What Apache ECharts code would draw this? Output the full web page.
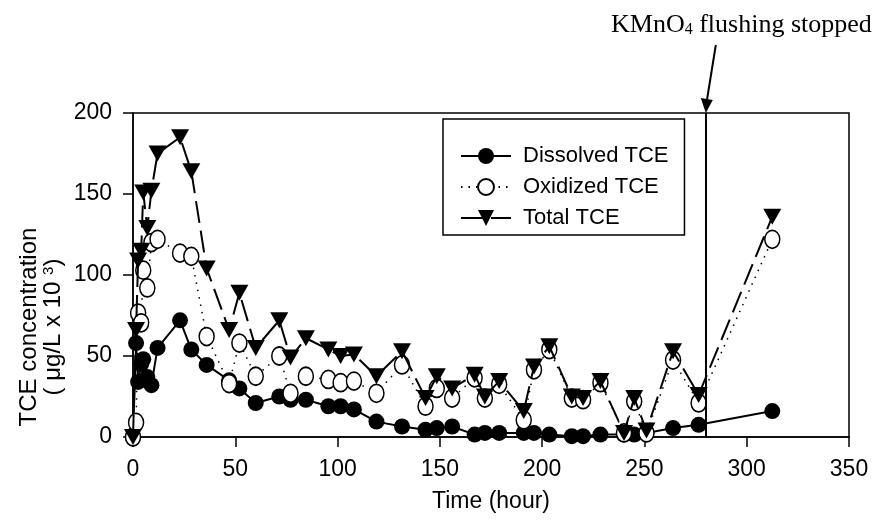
<!DOCTYPE html>
<html><head><meta charset="utf-8">
<script src="https://cdn.jsdelivr.net/npm/echarts@6/dist/echarts.min.js"></script>
<style>html,body{margin:0;padding:0;background:#fff}#c{width:880px;height:522px}</style>
</head><body><div id="c"></div>
<script>
// Time (hour)
var times = [0, 1.5, 2.5, 4, 5, 7, 9, 12, 23, 28.5, 36, 47, 52, 60, 71.5, 77, 84.5, 95.5, 101.5, 108, 119, 131.5, 143, 148.5, 156, 167, 172, 179, 191, 196, 203.5, 214.5, 220, 228.5, 240, 245, 251, 264, 276.5, 312.5];
var dissolved = [0, 58, 34, 45, 48, 37, 32, 55, 72, 54, 44.5, 35, 30, 21, 25, 23, 23, 19, 19, 17, 9.5, 6.5, 4.5, 5.5, 6.5, 1.5, 2.5, 2.5, 2.5, 2.5, 1.5, 0.5, 0.5, 1.5, 1.5, 1.5, 2.5, 5.5, 7.5, 16];
var oxidized = [0, 9, 76.5, 70.5, 103, 92, 120, 122, 113.5, 111.5, 62, 33, 58, 37.5, 50, 27, 37.5, 35.5, 33.5, 34.5, 27, 44.5, 19, 30, 24, 36.5, 24, 32.5, 10.5, 41.5, 54, 24, 23, 33.5, 2.5, 22, 2.5, 47.5, 21, 122];
var total = [0, 66, 109, 115, 151, 129, 152, 175, 185, 164, 104, 66, 89, 55, 72, 49, 61, 54, 50, 51, 37.5, 53, 24, 37.5, 30, 38.5, 25, 34.5, 16, 43.5, 56, 25, 24, 34.5, 2.5, 24, 4, 53, 26, 136];
var seriesNames = ['Dissolved TCE', 'Oxidized TCE', 'Total TCE'];
var xTicks = {min: 0, max: 350, interval: 50};
var yTicks = {min: 0, max: 200, interval: 50};
var stopTime = 280;

function pairs(vals) { return times.map(function (t, i) { return [t, vals[i]]; }); }

var SANS = 'Liberation Sans, Arial, sans-serif';
var SERIF = 'Liberation Serif, Times New Roman, serif';
var chart = echarts.init(document.getElementById('c'), null, {renderer: 'canvas'});

var axisCommon = {
  type: 'value',
  axisLine: {show: true, lineStyle: {color: '#000', width: 1.5}},
  axisTick: {show: true, inside: false, length: 10, lineStyle: {color: '#000', width: 1.5}},
  splitLine: {show: false},
  axisLabel: {color: '#000', fontSize: 23, fontFamily: SANS, margin: 21}
};

chart.setOption({
  animation: false,
  backgroundColor: '#fff',
  grid: {left: 133, right: 31, top: 113, bottom: 85, show: true, borderColor: '#000', borderWidth: 1.5, backgroundColor: 'transparent'},
  xAxis: Object.assign({}, axisCommon, {
    min: xTicks.min, max: xTicks.max, interval: xTicks.interval,
    name: 'Time (hour)', nameLocation: 'middle', nameGap: 53,
    nameTextStyle: {color: '#000', fontSize: 23, fontFamily: SANS}
  }),
  yAxis: Object.assign({}, axisCommon, {
    min: yTicks.min, max: yTicks.max, interval: yTicks.interval
  }),
  legend: {
    orient: 'vertical', left: 443, top: 119,
    padding: [26, 16, 6, 17], itemGap: 9, itemWidth: 50, itemHeight: 20,
    backgroundColor: '#fff', borderColor: '#000', borderWidth: 1.5,
    textStyle: {fontSize: 22, fontFamily: SANS, color: '#000', padding: [0, 0, 0, 7]},
    data: seriesNames
  },
  series: [
    {
      name: seriesNames[0], type: 'line', data: pairs(dissolved), z: 2,
      symbol: 'circle', symbolSize: 16,
      itemStyle: {color: '#000'},
      lineStyle: {color: '#000', width: 2, type: 'solid'},
      markLine: {
        silent: true, symbol: ['none', 'none'], label: {show: false},
        lineStyle: {color: '#000', width: 2, type: 'solid'},
        data: [{xAxis: stopTime}]
      }
    },
    {
      name: seriesNames[1], type: 'line', data: pairs(oxidized), z: 3,
      symbol: 'circle', symbolSize: [15, 18],
      itemStyle: {color: '#fff', borderColor: '#000', borderWidth: 1.6},
      lineStyle: {color: '#000', width: 1.5, type: [1.5, 6]}
    },
    {
      name: seriesNames[2], type: 'line', data: pairs(total), z: 4,
      symbol: 'triangle', symbolSize: [18, 16], symbolRotate: 180,
      itemStyle: {color: '#000'},
      lineStyle: {color: '#000', width: 2, type: [22, 8]}
    }
  ]
});

// annotation: text + arrow pointing to the stop line; y-axis title
var tip = chart.convertToPixel({gridIndex: 0}, [stopTime, yTicks.max]);
chart.setOption({
  graphic: [
    {
      type: 'text', x: 41, y: 327, rotation: Math.PI / 2,
      style: {
        text: 'TCE concentration\n( \u03bcg/L x 10 {sup|3})', fill: '#000',
        font: '24px ' + SANS, lineHeight: 24, align: 'center', verticalAlign: 'middle',
        rich: {sup: {fontSize: 15, fontFamily: SANS, fill: '#000', lineHeight: 24, verticalAlign: 'top', padding: [0, 0, 8, 0]}}
      }
    },
    {
      type: 'text', left: 611, top: 12,
      style: {
        text: 'KMnO{sub|4} flushing stopped', fill: '#000',
        font: '26px ' + SERIF,
        rich: {sub: {fontSize: 16, fontFamily: SERIF, fill: '#000', verticalAlign: 'bottom', padding: [10, 0, 0, 0]}}
      }
    },
    {
      type: 'line', shape: {x1: tip[0] + 10, y1: 45, x2: tip[0] + 1, y2: tip[1] - 12},
      style: {stroke: '#000', lineWidth: 2}
    },
    {
      type: 'polygon', shape: {points: [[tip[0] - 5, tip[1] - 15], [tip[0] + 7, tip[1] - 13], [tip[0], tip[1]]]},
      style: {fill: '#000'}
    }
  ]
});
</script>
</body></html>
